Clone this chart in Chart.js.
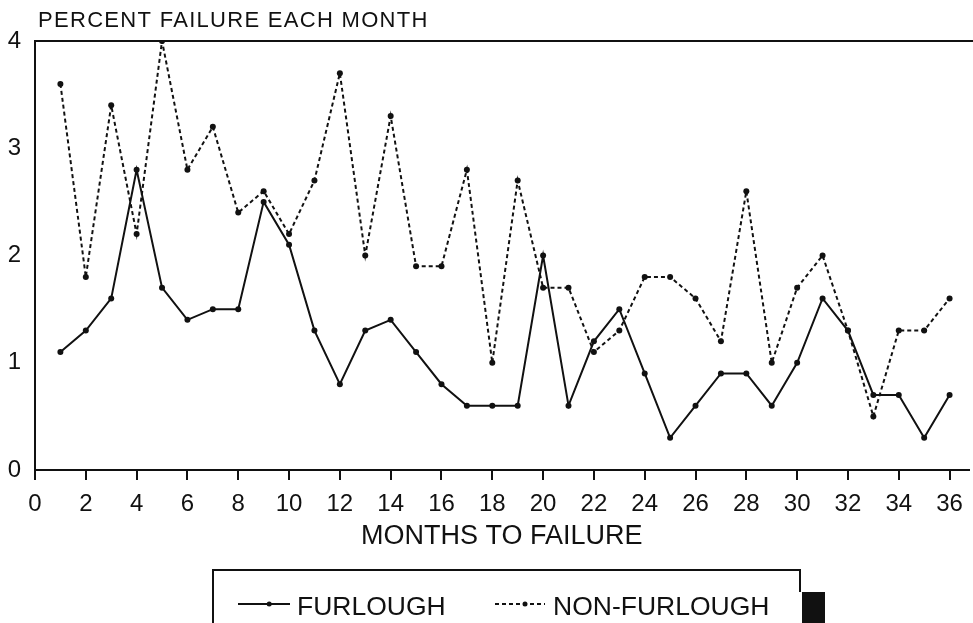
<!DOCTYPE html>
<html>
<head>
<meta charset="utf-8">
<script src="https://cdn.jsdelivr.net/npm/chart.js@4/dist/chart.umd.min.js"></script>
<style>
  html, body { margin: 0; padding: 0; background: #fff; }
  #chart { display: block; }
</style>
</head>
<body>
<canvas id="chart" width="973" height="623"></canvas>
<script>
const months = [1, 2, 3, 4, 5, 6, 7, 8, 9, 10, 11, 12, 13, 14, 15, 16, 17, 18,
    19, 20, 21, 22, 23, 24, 25, 26, 27, 28, 29, 30, 31, 32, 33, 34, 35, 36];
const furlough = [1.1, 1.3, 1.6, 2.8, 1.7, 1.4, 1.5, 1.5, 2.5, 2.1, 1.3, 0.8,
    1.3, 1.4, 1.1, 0.8, 0.6, 0.6, 0.6, 2.0, 0.6, 1.2, 1.5, 0.9,
    0.3, 0.6, 0.9, 0.9, 0.6, 1.0, 1.6, 1.3, 0.7, 0.7, 0.3, 0.7];
const nonFurlough = [3.6, 1.8, 3.4, 2.2, 4.0, 2.8, 3.2, 2.4, 2.6, 2.2, 2.7, 3.7,
    2.0, 3.3, 1.9, 1.9, 2.8, 1.0, 2.7, 1.7, 1.7, 1.1, 1.3, 1.8,
    1.8, 1.6, 1.2, 2.6, 1.0, 1.7, 2.0, 1.3, 0.5, 1.3, 1.3, 1.6];
const xTicks = [0, 2, 4, 6, 8, 10, 12, 14, 16, 18, 20, 22, 24, 26, 28, 30, 32, 34, 36];
const yTicks = [0, 1, 2, 3, 4];

const INK = '#111';
const FONT = '"Liberation Sans", Arial, sans-serif';

const toPoints = (values) => values.map((v, i) => ({ x: months[i], y: v }));

// title, top border and the boxed legend under the chart
const framePlugin = {
    id: 'frame',
    afterDraw(chart) {
        const ctx = chart.ctx;
        const area = chart.chartArea;
        ctx.save();
        ctx.strokeStyle = INK;
        ctx.fillStyle = INK;
        ctx.lineWidth = 2;

        ctx.beginPath();
        ctx.moveTo(area.left, area.top);
        ctx.lineTo(973, area.top);
        ctx.stroke();

        ctx.font = '22px ' + FONT;
        ctx.textBaseline = 'middle';
        ctx.textAlign = 'left';
        if ('letterSpacing' in ctx) {
            ctx.letterSpacing = '1.3px';
        }
        ctx.fillText('PERCENT FAILURE EACH MONTH', 38, 21);
        if ('letterSpacing' in ctx) {
            ctx.letterSpacing = '0px';
        }

        // legend box
        ctx.beginPath();
        ctx.moveTo(213, 623);
        ctx.lineTo(213, 570);
        ctx.lineTo(800, 570);
        ctx.lineTo(800, 592);
        ctx.stroke();
        ctx.fillRect(802, 592, 23, 31);

        const items = [
            { ds: 0, x0: 238, x1: 290, tx: 297 },
            { ds: 1, x0: 495, x1: 545, tx: 553 },
        ];
        const ly = 604;
        ctx.font = '26.5px ' + FONT;
        items.forEach((item) => {
            const ds = chart.data.datasets[item.ds];
            ctx.setLineDash(ds.borderDash || []);
            ctx.beginPath();
            ctx.moveTo(item.x0, ly);
            ctx.lineTo(item.x1, ly);
            ctx.stroke();
            ctx.setLineDash([]);
            ctx.beginPath();
            ctx.arc(item.x0 + (item.x1 - item.x0) * 0.6, ly, 2.5, 0, Math.PI * 2);
            ctx.fill();
            ctx.fillText(ds.label, item.tx, 608);
        });
        ctx.restore();
    },
};

new Chart(document.getElementById('chart'), {
    type: 'line',
    data: {
        datasets: [
            {
                label: 'FURLOUGH',
                data: toPoints(furlough),
                borderColor: INK,
                backgroundColor: INK,
                borderWidth: 2,
                pointRadius: 3,
                pointBackgroundColor: INK,
                pointBorderWidth: 0,
                tension: 0,
            },
            {
                label: 'NON-FURLOUGH',
                data: toPoints(nonFurlough),
                borderColor: INK,
                backgroundColor: INK,
                borderWidth: 2,
                borderDash: [4, 3],
                pointRadius: 3,
                pointBackgroundColor: INK,
                pointBorderWidth: 0,
                tension: 0,
            },
        ],
    },
    options: {
        responsive: false,
        animation: false,
        devicePixelRatio: 1,
        layout: {
            padding: { top: 41, right: 3, left: 0, bottom: 0 },
        },
        plugins: {
            legend: { display: false },
            tooltip: { enabled: false },
        },
        scales: {
            x: {
                type: 'linear',
                min: 0,
                max: 36.75,
                afterBuildTicks: (scale) => {
                    scale.ticks = xTicks.map((v) => ({ value: v }));
                },
                afterFit: (scale) => {
                    scale.height = 153;
                },
                ticks: {
                    color: INK,
                    font: { family: FONT, size: 24 },
                    padding: 10,
                    maxRotation: 0,
                    autoSkip: false,
                    callback: (v) => String(v),
                },
                grid: {
                    drawOnChartArea: false,
                    drawTicks: true,
                    tickLength: 10,
                    color: INK,
                    lineWidth: 2,
                },
                border: { display: true, color: INK, width: 2 },
                title: {
                    display: true,
                    text: 'MONTHS TO FAILURE',
                    color: INK,
                    font: { family: FONT, size: 27 },
                    padding: { top: 0, bottom: 70 },
                },
            },
            y: {
                min: 0,
                max: 4,
                afterBuildTicks: (scale) => {
                    scale.ticks = yTicks.map((v) => ({ value: v }));
                },
                afterFit: (scale) => {
                    scale.width = 35;
                },
                ticks: {
                    color: INK,
                    font: { family: FONT, size: 24 },
                    padding: 14,
                },
                grid: { display: false, drawTicks: false },
                border: { display: true, color: INK, width: 2 },
            },
        },
    },
    plugins: [framePlugin],
});
</script>
</body>
</html>
